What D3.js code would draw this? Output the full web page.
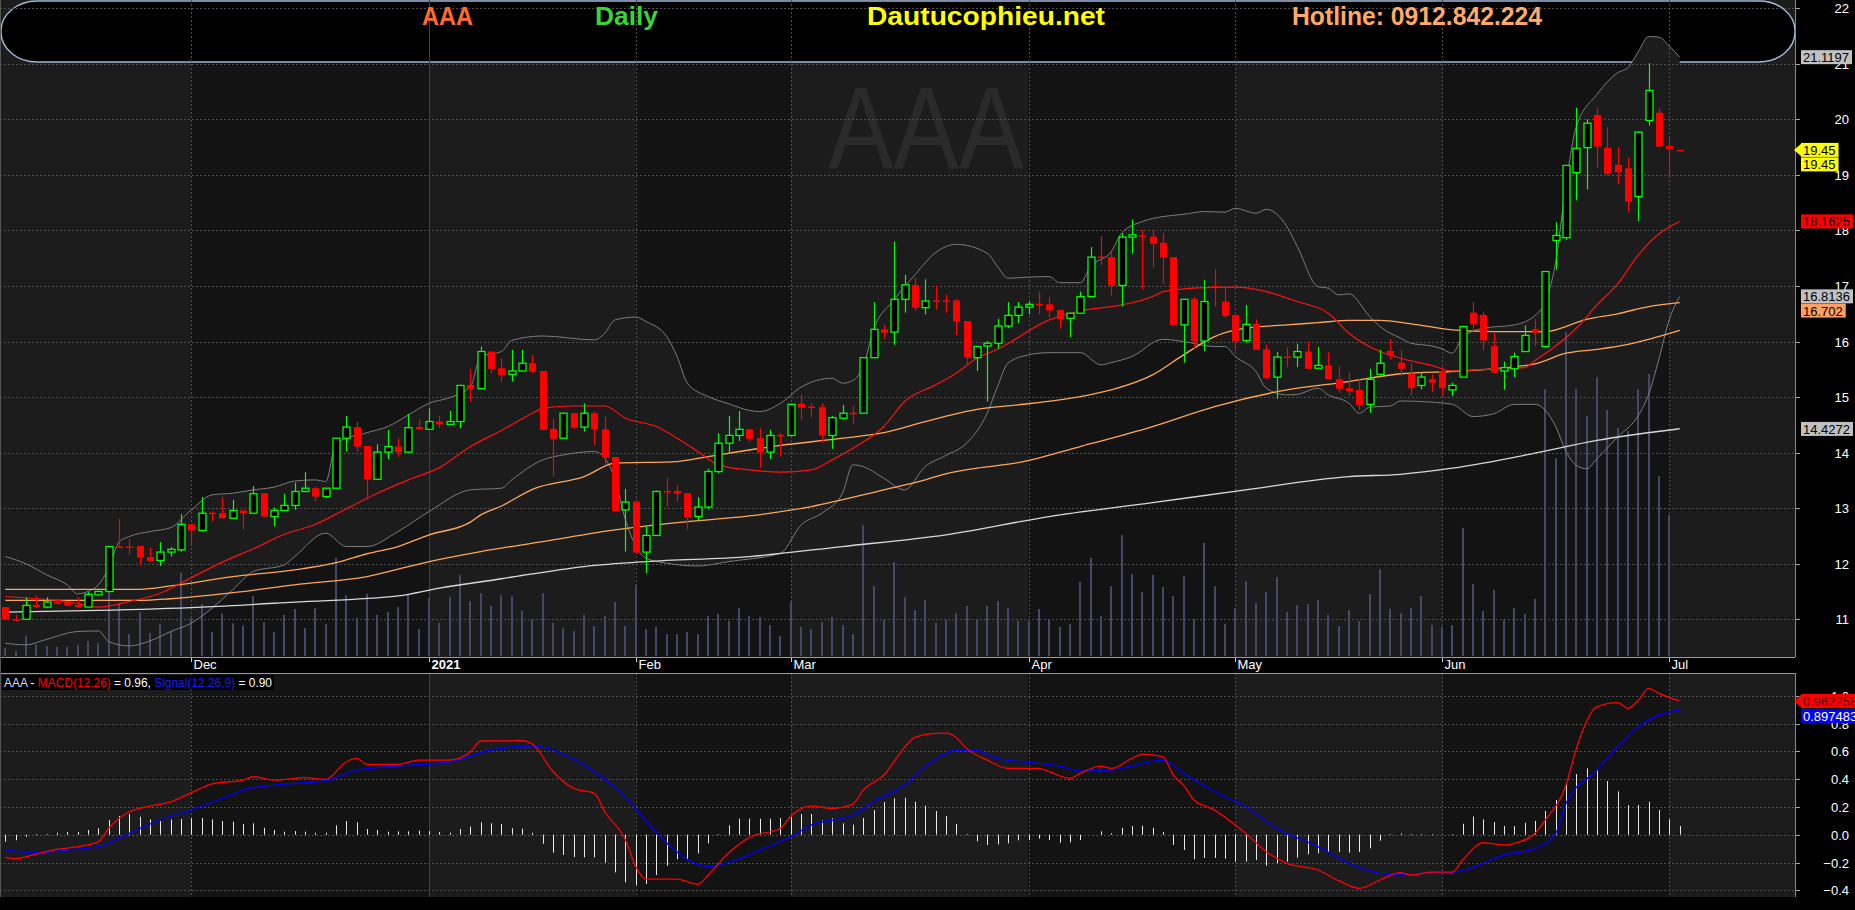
<!DOCTYPE html>
<html lang="en">
<head>
<meta charset="utf-8">
<script src="https://cdn.jsdelivr.net/npm/d3@7"></script>
<style>
  body { margin: 0; background: #000; overflow: hidden; }
  svg { display: block; font-family: "Liberation Sans", Arial, sans-serif; }
</style>
</head>
<body>
<div id="chart"></div>
<script>
// ---- data ----
// trading day index 0..162, month starts
var monthLabels = ["Dec", "2021", "Feb", "Mar", "Apr", "May", "Jun", "Jul"];
var monthStart = [18, 41, 61, 76, 99, 119, 139, 161];

// [open, high, low, close]
var ohlc = [
 [11.22,11.22,11.00,11.00],[11.00,11.08,10.97,10.99],[11.00,11.40,10.99,11.25],[11.26,11.43,11.20,11.22],[11.22,11.40,11.20,11.31],
 [11.31,11.36,11.26,11.30],[11.31,11.31,11.23,11.25],[11.26,11.40,11.20,11.22],[11.22,11.49,11.22,11.45],[11.44,11.52,11.43,11.50],
 [11.50,12.32,11.49,12.31],[12.31,12.81,12.30,12.30],[12.31,12.44,12.17,12.30],[12.32,12.32,11.96,12.11],[12.12,12.30,12.05,12.05],
 [12.06,12.39,11.96,12.21],[12.21,12.30,12.13,12.26],[12.25,12.89,12.22,12.71],[12.71,12.71,12.32,12.60],[12.60,13.20,12.58,12.91],
 [12.92,12.94,12.76,12.91],[12.91,13.20,12.82,12.82],[12.82,13.15,12.82,12.96],[12.96,12.96,12.62,12.91],[12.91,13.40,12.91,13.26],
 [13.27,13.27,12.85,12.85],[12.85,13.01,12.67,12.96],[12.96,13.26,12.96,13.05],[13.05,13.46,12.97,13.30],[13.30,13.65,13.30,13.36],
 [13.36,13.39,13.12,13.21],[13.21,13.36,13.18,13.36],[13.36,14.26,13.36,14.26],[14.26,14.66,14.02,14.46],[14.46,14.55,14.02,14.11],
 [14.12,14.12,13.18,13.52],[13.52,14.15,13.52,14.01],[14.01,14.41,13.88,14.11],[14.11,14.26,13.93,14.01],[14.01,14.70,14.01,14.45],
 [14.46,14.60,14.41,14.42],[14.42,14.80,14.41,14.56],[14.56,14.66,14.44,14.51],[14.51,14.75,14.51,14.56],[14.56,15.22,14.44,15.21],
 [15.22,15.51,14.92,15.15],[15.15,15.91,15.15,15.82],[15.82,15.82,15.42,15.51],[15.52,15.70,15.28,15.40],[15.41,15.85,15.28,15.47],
 [15.47,15.85,15.47,15.61],[15.61,15.76,15.43,15.46],[15.47,15.47,14.41,14.41],[14.43,14.61,13.57,14.25],[14.26,14.72,14.26,14.71],
 [14.71,14.72,14.43,14.45],[14.46,14.89,14.38,14.71],[14.71,14.74,14.13,14.42],[14.42,14.65,13.78,13.92],[13.92,13.92,12.95,12.95],
 [12.97,13.35,12.22,13.11],[13.12,13.12,12.20,12.20],[12.21,12.68,11.83,12.51],[12.51,13.32,12.51,13.30],[13.31,13.54,13.03,13.29],
 [13.31,13.41,13.12,13.26],[13.27,13.27,12.62,12.84],[12.85,13.20,12.78,13.02],[13.02,13.71,12.98,13.66],[13.66,14.35,13.63,14.17],
 [14.17,14.66,13.98,14.31],[14.31,14.75,14.21,14.42],[14.42,14.42,14.19,14.25],[14.26,14.44,13.73,14.00],[14.01,14.41,13.88,14.31],
 [14.32,14.35,13.93,14.31],[14.31,14.88,14.31,14.87],[14.88,15.05,14.59,14.81],[14.83,14.90,14.64,14.82],[14.82,14.89,14.18,14.31],
 [14.31,14.66,14.07,14.63],[14.62,14.86,14.62,14.71],[14.72,14.84,14.52,14.71],[14.71,15.72,14.70,15.71],[15.71,16.71,15.71,16.22],
 [16.22,16.30,16.04,16.16],[16.17,17.80,15.94,16.76],[16.76,17.20,16.52,17.02],[17.02,17.15,16.55,16.61],[16.61,17.12,16.49,16.73],
 [16.74,17.00,16.57,16.72],[16.74,16.85,16.52,16.72],[16.74,16.76,16.12,16.36],[16.37,16.37,15.59,15.71],[15.71,15.91,15.47,15.91],
 [15.92,16.01,14.92,15.97],[15.97,16.41,15.87,16.28],[16.28,16.71,16.24,16.47],[16.47,16.71,16.33,16.62],[16.62,16.72,16.49,16.67],
 [16.68,16.90,16.49,16.66],[16.67,16.80,16.43,16.56],[16.57,16.57,16.23,16.40],[16.42,16.51,16.08,16.51],[16.51,16.90,16.51,16.81],
 [16.81,17.70,16.81,17.52],[17.53,17.90,17.38,17.51],[17.52,17.62,16.83,17.01],[17.01,17.95,16.63,17.88],[17.88,18.20,17.58,17.92],
 [17.91,18.01,16.94,17.89],[17.89,18.01,17.33,17.76],[17.78,17.95,17.03,17.51],[17.52,17.52,16.30,16.30],[16.30,16.77,15.62,16.76],
 [16.77,16.80,15.87,16.01],[16.01,17.11,15.83,16.72],[17.00,17.30,16.63,16.99],[16.72,16.99,16.43,16.46],[16.48,16.48,15.83,16.01],
 [16.02,16.66,15.98,16.31],[16.32,16.40,15.85,15.85],[15.86,15.95,15.32,15.34],[15.36,15.81,14.97,15.72],[15.73,15.90,15.54,15.72],
 [15.72,15.96,15.54,15.82],[15.82,16.00,15.51,15.51],[15.52,15.90,15.52,15.57],[15.57,15.81,15.32,15.32],[15.32,15.55,15.08,15.15],
 [15.16,15.44,15.02,15.11],[15.13,15.32,14.77,14.86],[14.87,15.51,14.72,15.32],[15.41,15.85,15.41,15.61],[15.83,16.05,15.67,15.75],
 [15.62,15.85,15.37,15.51],[15.42,15.61,15.02,15.16],[15.21,15.45,15.14,15.36],[15.32,15.41,15.09,15.26],[15.47,15.55,15.02,15.16],
 [15.13,15.26,15.02,15.21],[15.36,16.27,15.36,16.27],[16.52,16.71,16.18,16.31],[16.48,16.54,15.84,16.02],[15.92,16.16,15.42,15.44],
 [15.47,15.64,15.13,15.53],[15.51,15.80,15.36,15.73],[15.82,16.29,15.82,16.11],[16.22,16.40,15.92,16.16],[15.91,17.27,15.90,17.26],
 [17.82,18.15,17.29,17.91],[17.87,19.18,17.83,19.17],[19.04,20.21,18.54,19.48],[19.49,20.00,18.74,19.93],[20.08,20.21,19.13,19.51],
 [19.49,19.86,18.99,19.02],[19.18,19.50,18.83,19.05],[19.12,19.31,18.33,18.52],[18.61,19.78,18.17,19.77],[19.98,21.01,19.89,20.52],
 [20.12,20.21,19.51,19.51],[19.52,19.67,18.94,19.47],[19.45,19.45,19.45,19.45]
];

// volume, million shares (estimated)
var volume = [
 0.27,0.17,0.67,0.37,0.33,0.30,0.30,0.37,0.50,0.43,
 2.14,1.76,0.73,1.46,0.76,1.07,0.83,2.78,1.26,1.73,
 0.80,1.42,1.09,1.02,2.00,1.13,0.80,1.37,1.57,0.93,
 1.59,1.07,3.27,2.03,1.27,2.07,1.37,1.47,1.63,2.07,
 0.90,1.93,1.10,1.97,2.70,1.83,2.10,1.67,2.03,2.00,
 1.50,1.23,2.10,1.10,0.93,0.83,1.37,1.00,1.33,1.80,
 1.00,2.37,0.90,0.97,0.73,0.73,0.80,0.73,1.33,1.40,
 1.17,1.60,1.33,1.30,1.03,0.67,1.80,0.97,0.90,1.13,
 1.30,1.03,0.73,4.37,2.33,1.20,3.13,1.97,1.53,1.87,
 1.10,1.20,1.43,1.67,1.20,1.67,1.83,1.60,1.17,1.17,
 1.57,1.20,0.97,1.07,2.47,3.27,1.33,2.33,4.03,2.73,
 2.13,2.70,2.30,2.00,2.67,1.23,3.77,2.33,1.07,1.60,
 2.50,1.77,2.13,2.63,1.47,1.70,1.73,1.87,1.37,1.00,
 1.53,1.17,2.07,2.90,1.57,1.43,1.60,2.00,1.03,0.97,
 1.03,4.27,2.40,1.50,2.20,1.20,1.60,1.40,1.90,8.90,
 6.60,10.8,8.90,8.00,9.30,8.20,7.60,7.50,8.90,9.40,
 6.00,4.70,0
];

// indicator lines, [day index, value] read at sample days
var ma20 = [[0,11.41],[3,11.37],[6,11.32],[9,11.22],[12,11.32],[15,11.47],[18,11.75],[21,12.03],[24,12.27],[27,12.53],[30,12.71],[33,12.99],[36,13.27],[39,13.51],[42,13.73],[45,14.11],[48,14.40],[51,14.71],[52,14.80],[55,14.84],[58,14.84],[60,14.62],[63,14.47],[65,14.26],[67,14.02],[69,13.78],[72,13.69],[75,13.65],[78,13.69],[80,13.87],[82,14.08],[85,14.47],[87,14.92],[90,15.22],[92,15.43],[94,15.70],[96,15.86],[101,16.39],[104,16.55],[108,16.66],[111,16.81],[112,16.90],[116,16.97],[119,16.98],[122,16.90],[125,16.72],[128,16.51],[130,16.15],[133,15.82],[135,15.70],[138,15.57],[140,15.47],[143,15.50],[147,15.53],[148,15.66],[150,15.92],[152,16.24],[154,16.66],[156,17.04],[158,17.56],[160,17.94],[162,18.16]];
var ma50 = [[0,11.54],[13,11.54],[16,11.60],[22,11.77],[28,11.89],[32,12.02],[35,12.18],[38,12.31],[41,12.52],[45,12.75],[46,12.88],[48,13.04],[51,13.34],[56,13.57],[59,13.81],[65,13.84],[68,13.93],[75,14.13],[81,14.26],[85,14.36],[89,14.56],[94,14.78],[98,14.86],[104,15.01],[107,15.13],[111,15.40],[114,15.76],[117,16.09],[120,16.24],[124,16.30],[127,16.34],[130,16.38],[133,16.38],[136,16.32],[140,16.21],[144,16.18],[149,16.18],[153,16.40],[156,16.50],[159,16.63],[162,16.70]];
var ma100 = [[0,11.34],[13,11.34],[16,11.37],[22,11.48],[28,11.62],[35,11.77],[41,12.04],[46,12.22],[52,12.40],[59,12.61],[65,12.74],[72,12.86],[78,13.03],[85,13.33],[89,13.51],[91,13.62],[94,13.72],[98,13.82],[104,14.11],[111,14.47],[117,14.83],[124,15.13],[130,15.28],[135,15.42],[141,15.47],[148,15.60],[151,15.79],[154,15.86],[157,15.95],[162,16.20]];
var ma200 = [[0,11.13],[9,11.16],[19,11.22],[28,11.31],[38,11.42],[42,11.56],[48,11.73],[56,11.95],[62,12.04],[72,12.13],[81,12.31],[91,12.52],[101,12.85],[111,13.10],[120,13.33],[130,13.57],[135,13.61],[140,13.72],[148,13.99],[154,14.22],[162,14.43]];
var bbUpper = [[0,12.13],[2,12.00],[4,11.80],[6,11.62],[7,11.46],[8,11.50],[9,11.62],[10,11.92],[11,12.39],[12,12.49],[14,12.58],[16,12.65],[18,12.97],[20,13.24],[22,13.27],[24,13.33],[26,13.38],[28,13.49],[30,13.51],[31,13.48],[32,14.17],[35,14.36],[37,14.47],[39,14.68],[41,14.89],[43,14.99],[45,15.19],[46,15.73],[48,15.82],[49,16.02],[52,16.10],[57,16.03],[58,16.15],[59,16.39],[61,16.44],[62,16.36],[64,16.09],[65,15.73],[66,15.25],[68,15.01],[70,14.88],[72,14.76],[73,14.74],[75,14.89],[77,15.18],[80,15.34],[81,15.25],[82,15.30],[83,15.55],[84,16.21],[86,16.75],[88,17.20],[90,17.60],[92,17.75],[95,17.59],[96,17.35],[97,17.14],[99,17.16],[101,17.17],[102,17.06],[104,17.06],[105,17.35],[107,17.62],[108,17.95],[110,18.16],[112,18.25],[114,18.29],[116,18.34],[118,18.33],[119,18.40],[121,18.31],[122,18.38],[124,18.07],[125,17.71],[127,16.99],[128,16.96],[129,16.84],[130,16.86],[132,16.45],[133,16.27],[135,16.06],[136,15.97],[138,15.92],[139,15.87],[140,15.79],[141,16.08],[143,16.24],[146,16.30],[148,16.47],[149,16.72],[150,17.43],[151,18.84],[152,19.87],[154,20.45],[156,20.84],[157,20.93],[158,21.22],[159,21.49],[160,21.48],[161,21.32],[162,21.12]];
var bbLower = [[0,10.57],[2,10.54],[4,10.64],[7,10.78],[9,10.79],[10,10.60],[12,10.52],[14,10.61],[16,10.78],[18,10.93],[20,11.20],[22,11.53],[24,11.86],[27,11.98],[28,12.13],[31,12.55],[33,12.31],[35,12.31],[38,12.58],[41,12.94],[45,13.33],[48,13.36],[49,13.51],[52,13.87],[54,13.96],[57,14.02],[58,13.90],[59,13.51],[60,12.79],[62,12.10],[64,12.01],[67,11.96],[70,12.04],[75,12.19],[77,12.70],[79,12.91],[81,13.27],[82,13.78],[83,13.75],[85,13.54],[87,13.33],[89,13.75],[91,13.95],[93,14.17],[95,14.71],[96,15.19],[97,15.61],[99,15.76],[101,15.80],[104,15.80],[106,15.58],[107,15.62],[109,15.73],[112,16.04],[114,16.00],[117,15.91],[118,15.91],[119,15.73],[121,15.46],[122,15.16],[124,15.04],[125,15.05],[127,15.16],[128,15.04],[130,14.89],[131,14.71],[132,14.82],[134,14.84],[135,14.93],[137,14.92],[140,14.87],[142,14.65],[144,14.70],[146,14.87],[148,14.87],[150,14.47],[151,14.02],[152,13.77],[153,13.71],[154,13.89],[156,14.28],[158,14.67],[159,15.05],[160,15.69],[161,16.40],[162,16.81]];

var macdLine = [[0,-0.163],[1,-0.173],[3,-0.139],[5,-0.106],[7,-0.086],[9,-0.05],[10,0.046],[12,0.165],[14,0.206],[16,0.237],[18,0.302],[20,0.365],[23,0.393],[24,0.417],[26,0.393],[29,0.41],[31,0.398],[33,0.525],[34,0.549],[35,0.506],[38,0.506],[40,0.537],[43,0.537],[45,0.597],[46,0.674],[50,0.676],[51,0.652],[53,0.453],[55,0.333],[57,0.297],[58,0.165],[60,-0.038],[61,-0.23],[62,-0.319],[65,-0.319],[67,-0.357],[68,-0.29],[70,-0.13],[72,-0.019],[75,0.046],[76,0.134],[78,0.206],[80,0.189],[82,0.22],[83,0.321],[85,0.429],[87,0.628],[88,0.70],[90,0.729],[91,0.731],[92,0.70],[93,0.621],[95,0.537],[97,0.477],[100,0.477],[101,0.453],[103,0.405],[104,0.441],[106,0.494],[107,0.477],[109,0.549],[110,0.58],[112,0.561],[113,0.429],[114,0.357],[115,0.249],[117,0.177],[119,0.07],[120,0.01],[122,-0.122],[124,-0.206],[127,-0.254],[129,-0.331],[131,-0.386],[133,-0.326],[135,-0.273],[136,-0.29],[138,-0.269],[140,-0.269],[141,-0.182],[143,-0.058],[145,-0.074],[146,-0.062],[148,0.01],[149,0.106],[151,0.357],[152,0.621],[154,0.921],[156,0.95],[157,0.909],[158,0.969],[159,1.053],[160,1.017],[162,0.962]];
var signalLine = [[0,-0.11],[3,-0.129],[6,-0.11],[9,-0.086],[12,0.01],[15,0.106],[18,0.177],[21,0.261],[23,0.321],[26,0.357],[31,0.388],[34,0.465],[38,0.494],[43,0.525],[47,0.609],[51,0.638],[52,0.63],[54,0.58],[56,0.50],[58,0.40],[60,0.27],[62,0.10],[64,-0.06],[66,-0.18],[68,-0.23],[70,-0.20],[73,-0.11],[76,-0.014],[78,0.07],[82,0.141],[84,0.237],[87,0.357],[89,0.489],[91,0.585],[92,0.609],[94,0.604],[96,0.549],[100,0.513],[102,0.494],[104,0.458],[107,0.465],[109,0.494],[112,0.537],[114,0.441],[117,0.309],[120,0.201],[123,0.046],[127,-0.086],[130,-0.206],[133,-0.278],[135,-0.29],[138,-0.273],[140,-0.271],[143,-0.206],[145,-0.146],[148,-0.098],[150,0.01],[151,0.225],[154,0.465],[156,0.633],[158,0.777],[160,0.861],[162,0.897]];
var macdHist = [
 -0.05,-0.04,-0.014,0.005,0.005,0.014,0.019,0.019,0.034,0.046,
 0.106,0.134,0.149,0.129,0.11,0.098,0.11,0.113,0.118,0.12,
 0.11,0.098,0.094,0.077,0.082,0.05,0.034,0.022,0.026,0.022,
 0.014,0.014,0.067,0.098,0.089,0.041,0.034,0.022,0.024,0.024,
 0.029,0.026,0.019,0.014,0.041,0.058,0.089,0.082,0.077,0.046,
 0.043,0.014,-0.065,-0.129,-0.146,-0.161,-0.163,-0.163,-0.201,-0.271,
 -0.343,-0.362,-0.355,-0.29,-0.223,-0.177,-0.175,-0.134,-0.062,0.005,
 0.067,0.115,0.115,0.115,0.115,0.12,0.129,0.149,0.149,0.103,
 0.118,0.082,0.072,0.12,0.177,0.235,0.261,0.266,0.237,0.209,
 0.17,0.134,0.077,0.005,-0.048,-0.074,-0.07,-0.062,-0.041,-0.038,
 -0.029,-0.038,-0.058,-0.055,-0.038,0,0.024,0.01,0.05,0.062,
 0.065,0.05,0.019,-0.074,-0.11,-0.177,-0.168,-0.168,-0.173,-0.194,
 -0.194,-0.182,-0.223,-0.206,-0.194,-0.165,-0.141,-0.134,-0.129,-0.125,
 -0.129,-0.125,-0.098,-0.043,0.005,0.01,0.005,0.005,0.005,0.002,
 0.005,0.079,0.13,0.11,0.091,0.062,0.062,0.086,0.1,0.17,
 0.25,0.365,0.436,0.477,0.465,0.386,0.312,0.213,0.213,0.237,
 0.177,0.11,0.062
];

var priceTicks = [11, 12, 13, 14, 15, 16, 17, 18, 19, 20, 21, 22];
var macdTicks = [-0.4, -0.2, 0.0, 0.2, 0.4, 0.6, 0.8, 1.0];

// last values shown on the right axis
var priceBadges = [
  {v: 21.1197, t: "21.1197", bg: "#c0c0c0", fg: "#000"},
  {v: 19.45, t: "19.45", bg: "#ffff00", fg: "#000", arrow: true},
  {v: 19.45, t: "19.45", bg: "#ffff00", fg: "#000", shift: 14.5},
  {v: 18.1625, t: "18.1625", bg: "#ff0000", fg: "#000"},
  {v: 16.8136, t: "16.8136", bg: "#c0c0c0", fg: "#000"},
  {v: 16.702, t: "16.702", bg: "#ffa060", fg: "#000", shift: 8},
  {v: 14.4272, t: "14.4272", bg: "#c0c0c0", fg: "#000"}
];
var macdBadges = [
  {v: 0.962258, t: "0.962258", bg: "#ff0000", fg: "#5a0000", arrow: true},
  {v: 0.897483, t: "0.897483", bg: "#0000ff", fg: "#ffffff", shift: 6}
];

// ---- layout ----
var W = 1855, H = 910;
var plotRight = 1795;
var mainBottom = 657, macdTop = 673, macdBottom = 897;

var svg = d3.select("#chart").append("svg")
    .attr("width", W).attr("height", H)
    .style("background", "#000");

var x = d3.scaleLinear().domain([0, 162]).range([5.3, 1679.7]);
var yP = d3.scaleLinear().domain([11, 22]).range([619.3, 8.25]);
var yV = d3.scaleLinear().domain([0, 12]).range([656, 296]);
var yM = d3.scaleLinear().domain([-0.4, 1.0]).range([890.3, 695.7]);

// month shading (alternating)
var edges = [0].concat(monthStart.map(function(d){ return x(d); })).concat([plotRight]);
function shade(y0, y1) {
  for (var k = 0; k < edges.length - 1; k++) {
    svg.append("rect")
      .attr("x", edges[k]).attr("y", y0)
      .attr("width", edges[k+1] - edges[k]).attr("height", y1 - y0)
      .attr("fill", k % 2 == 0 ? "#1c1c1c" : "#131313");
  }
}
shade(0, mainBottom);
shade(macdTop, macdBottom);

// header box
svg.append("rect")
  .attr("x", 1).attr("y", 1).attr("width", plotRight - 1).attr("height", 61)
  .attr("rx", 36).attr("ry", 30)
  .attr("fill", "#000").attr("stroke", "#9fb6d6").attr("stroke-width", 1.5);

// watermark
svg.append("text")
  .attr("x", 926).attr("y", 169)
  .attr("text-anchor", "middle")
  .attr("font-size", 117)
  .attr("textLength", 196).attr("lengthAdjust", "spacingAndGlyphs")
  .attr("fill", "#2a2a2a")
  .text("AAA");

// bollinger fill
var lineP = d3.line().x(function(d){ return x(d[0]); }).y(function(d){ return yP(d[1]); }).curve(d3.curveMonotoneX);
var fillPath = lineP(bbUpper) + "L" + lineP(bbLower.slice().reverse()).slice(1) + "Z";
svg.append("path").attr("d", fillPath).attr("fill", "#1c1c1c");

// gridlines main
svg.append("g").selectAll("line").data(priceTicks).enter().append("line")
  .attr("x1", 0).attr("x2", plotRight)
  .attr("y1", function(d){ return Math.round(yP(d)) + 0.5; })
  .attr("y2", function(d){ return Math.round(yP(d)) + 0.5; })
  .attr("stroke", "#4e4e4e").attr("stroke-dasharray", "2,2");
svg.append("g").selectAll("line").data(macdTicks).enter().append("line")
  .attr("x1", 0).attr("x2", plotRight)
  .attr("y1", function(d){ return Math.round(yM(d)) + 0.5; })
  .attr("y2", function(d){ return Math.round(yM(d)) + 0.5; })
  .attr("stroke", "#4e4e4e").attr("stroke-dasharray", "2,2");
monthStart.forEach(function(m, k) {
  var xx = Math.round(x(m)) + 0.5;
  var solid = monthLabels[k] == "2021";
  [[0, mainBottom], [macdTop, macdBottom]].forEach(function(r) {
    svg.append("line")
      .attr("x1", xx).attr("x2", xx).attr("y1", r[0]).attr("y2", r[1])
      .attr("stroke", solid ? "#3f3f3f" : "#4e4e4e")
      .attr("stroke-dasharray", solid ? null : "2,2");
  });
});

// volume
svg.append("g").selectAll("rect").data(volume).enter().append("rect")
  .attr("x", function(d, i){ return Math.round(x(i)) - 1; })
  .attr("y", function(d){ return yV(d); })
  .attr("width", 2)
  .attr("height", function(d){ return 656 - yV(d); })
  .attr("fill", "#47476a");

// indicator lines
svg.append("clipPath").attr("id", "plot")
  .append("rect").attr("x", 0).attr("y", 0).attr("width", plotRight).attr("height", mainBottom);
var lines = svg.append("g").attr("clip-path", "url(#plot)");
function drawLine(data, color, w) {
  lines.append("path").attr("d", lineP(data))
    .attr("fill", "none").attr("stroke", color).attr("stroke-width", w);
}
drawLine(bbUpper, "#7c7c7c", 1);
drawLine(bbLower, "#7c7c7c", 1);
drawLine(ma200, "#d8d8d8", 1.3);
drawLine(ma100, "#ffa756", 1.3);
drawLine(ma50, "#ffa756", 1.3);
drawLine(ma20, "#ff1010", 1.2);

// candles
var candles = svg.append("g").selectAll("g").data(ohlc).enter().append("g");
candles.append("line")
  .attr("x1", function(d, i){ return Math.round(x(i)) + 0.5; })
  .attr("x2", function(d, i){ return Math.round(x(i)) + 0.5; })
  .attr("y1", function(d){ return yP(d[1]); })
  .attr("y2", function(d){ return yP(d[2]); })
  .attr("stroke", function(d){ return d[3] > d[0] ? "#00ff00" : "#ff0000"; })
  .attr("stroke-width", 1.2);
candles.append("rect")
  .attr("x", function(d, i){ return Math.round(x(i)) - 3; })
  .attr("y", function(d){ return yP(Math.max(d[0], d[3])); })
  .attr("width", 7)
  .attr("height", function(d){ return Math.max(1.5, Math.abs(yP(d[0]) - yP(d[3]))); })
  .attr("fill", function(d){ return d[3] > d[0] ? "#000" : "#ff0000"; })
  .attr("stroke", function(d){ return d[3] > d[0] ? "#00ff00" : "none"; })
  .attr("stroke-width", 1.3);

// header texts
var header = [
  {t: "AAA", x: 422, w: 51, c: "#ff6a30"},
  {t: "Daily", x: 595, w: 63, c: "#3ad33a"},
  {t: "Dautucophieu.net", x: 867, w: 238, c: "#ffff00"},
  {t: "Hotline: 0912.842.224", x: 1292, w: 250, c: "#ffaa66"}
];
svg.append("g").selectAll("text").data(header).enter().append("text")
  .attr("x", function(d){ return d.x; }).attr("y", 25)
  .attr("font-size", 25).attr("font-weight", "bold")
  .attr("textLength", function(d){ return d.w; }).attr("lengthAdjust", "spacingAndGlyphs")
  .attr("fill", function(d){ return d.c; })
  .text(function(d){ return d.t; });

// x axis band
svg.append("rect").attr("x", 0).attr("y", mainBottom).attr("width", plotRight).attr("height", macdTop - mainBottom).attr("fill", "#000");
svg.append("line").attr("x1", 0).attr("x2", plotRight).attr("y1", mainBottom + 0.5).attr("y2", mainBottom + 0.5).attr("stroke", "#9a9a9a");
svg.append("line").attr("x1", 0).attr("x2", plotRight).attr("y1", macdTop + 0.5).attr("y2", macdTop + 0.5).attr("stroke", "#9a9a9a");
monthStart.forEach(function(m, k) {
  var xx = Math.round(x(m)) + 0.5;
  svg.append("line").attr("x1", xx).attr("x2", xx).attr("y1", mainBottom + 1).attr("y2", mainBottom + 5).attr("stroke", "#ccc");
  svg.append("text").attr("x", xx + 2).attr("y", 669)
    .attr("font-size", 13).attr("fill", "#fff")
    .attr("font-weight", monthLabels[k] == "2021" ? "bold" : null)
    .text(monthLabels[k]);
});

// MACD panel
svg.append("g").selectAll("line").data(macdHist).enter().append("line")
  .attr("x1", function(d, i){ return Math.round(x(i)) + 0.5; })
  .attr("x2", function(d, i){ return Math.round(x(i)) + 0.5; })
  .attr("y1", yM(0))
  .attr("y2", function(d){ return yM(d); })
  .attr("stroke", "#e8e8e8").attr("stroke-width", 1);
var lineM = d3.line().x(function(d){ return x(d[0]); }).y(function(d){ return yM(d[1]); }).curve(d3.curveMonotoneX);
svg.append("path").attr("d", lineM(signalLine)).attr("fill", "none").attr("stroke", "#0000ff").attr("stroke-width", 1.4);
svg.append("path").attr("d", lineM(macdLine)).attr("fill", "none").attr("stroke", "#ff0000").attr("stroke-width", 1.3);

// MACD legend
svg.append("rect").attr("x", 2).attr("y", 675).attr("width", 272).attr("height", 15).attr("fill", "#000");
var leg = svg.append("text").attr("x", 4).attr("y", 687).attr("font-size", 12.5)
  .attr("textLength", 268).attr("lengthAdjust", "spacingAndGlyphs");
leg.append("tspan").attr("fill", "#d0d8ff").text("AAA");
leg.append("tspan").attr("fill", "#fff").text(" - ");
leg.append("tspan").attr("fill", "#ff0000").text("MACD(12,26)");
leg.append("tspan").attr("fill", "#fff").text(" = 0.96, ");
leg.append("tspan").attr("fill", "#1a1aff").text("Signal(12,26,9)");
leg.append("tspan").attr("fill", "#fff").text(" = 0.90");

// right axis
svg.append("rect").attr("x", plotRight + 1).attr("y", 0).attr("width", W - plotRight).attr("height", H).attr("fill", "#000");
svg.append("line").attr("x1", plotRight + 0.5).attr("x2", plotRight + 0.5).attr("y1", 0).attr("y2", mainBottom).attr("stroke", "#8a8a8a");
svg.append("line").attr("x1", plotRight + 0.5).attr("x2", plotRight + 0.5).attr("y1", macdTop).attr("y2", macdBottom).attr("stroke", "#8a8a8a");

function axisLabels(ticks, scale, fmt) {
  var g = svg.append("g");
  g.selectAll("line").data(ticks).enter().append("line")
    .attr("x1", plotRight + 1).attr("x2", plotRight + 5)
    .attr("y1", function(d){ return Math.round(scale(d)) + 0.5; })
    .attr("y2", function(d){ return Math.round(scale(d)) + 0.5; })
    .attr("stroke", "#aaa");
  g.selectAll("text").data(ticks).enter().append("text")
    .attr("x", 1849)
    .attr("y", function(d){ return scale(d) + 5; })
    .attr("text-anchor", "end")
    .attr("font-size", 13).attr("fill", "#fff")
    .text(fmt);
}
axisLabels(priceTicks, yP, d3.format("d"));
axisLabels(macdTicks, yM, d3.format(".1f"));

function badges(list, scale) {
  list.forEach(function(b) {
    var yc = scale(b.v) + (b.shift || 0);
    var g = svg.append("g");
    var r = g.append("rect").attr("x", 1801).attr("y", yc - 7).attr("height", 14).attr("fill", b.bg);
    var t = g.append("text").attr("x", 1803).attr("y", yc + 5)
      .attr("font-size", 13).attr("fill", b.fg).text(b.t);
    var w = t.node().getComputedTextLength();
    r.attr("width", Math.min(w + 5, W - 1801));
    if (b.arrow) {
      g.append("path")
        .attr("d", "M" + (plotRight - 1) + "," + yc + "L1802," + (yc - 7) + "L1802," + (yc + 7) + "Z")
        .attr("fill", b.bg);
    }
  });
}
badges(priceBadges, yP);
badges(macdBadges, yM);

// left border
svg.append("line").attr("x1", 0.5).attr("x2", 0.5).attr("y1", 0).attr("y2", macdBottom).attr("stroke", "#555");
</script>
</body>
</html>
